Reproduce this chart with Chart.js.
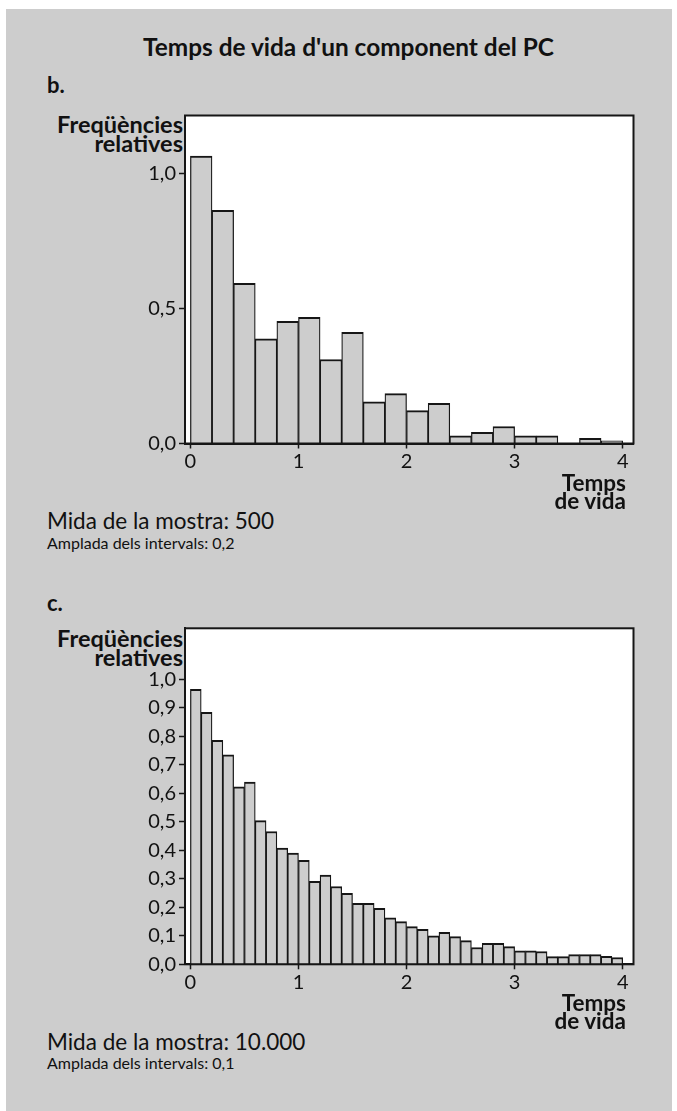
<!DOCTYPE html>
<html>
<head>
<meta charset="utf-8">
<script src="https://cdn.jsdelivr.net/npm/chart.js@4.4.1/dist/chart.umd.min.js"></script>
<style>
  html, body { margin: 0; padding: 0; background: #ffffff; }
  body { width: 677px; height: 1111px; position: relative; overflow: hidden; font-family: Lato, "Open Sans", sans-serif; color: #111; }
  #panel { position: absolute; left: 6px; top: 9px; width: 666px; height: 1102px; background: #cdcdcd; }
  .txt { position: absolute; white-space: nowrap; }
  .bold { font-weight: 700; font-size: 22px; }
  .title { left: 48px; width: 601px; text-align: center; top: 34px; line-height: 26px; font-size: 24.4px; }
  .ylab { right: 494px; text-align: right; line-height: 19px; font-size: 23.5px; }
  .xlab { right: 51px; text-align: right; line-height: 18px; font-size: 22.5px; }
  .mida { left: 47px; font-size: 22.5px; line-height: 26px; }
  .ampl { left: 47px; font-size: 16px; line-height: 18px; }
  canvas { position: absolute; left: 0; }
</style>
</head>
<body>
<div id="panel"></div>

<div class="txt bold title">Temps de vida d'un component del PC</div>

<div class="txt bold" style="left:47px; top:73px; line-height:24px;">b.</div>
<div class="txt bold ylab" style="top:114.5px;">Freqüències<br>relatives</div>
<canvas id="chartB" width="677" height="375" style="top:100px; width:677px; height:375px;"></canvas>
<div class="txt bold xlab" style="top:473.5px;">Temps<br>de vida</div>
<div class="txt mida" style="top:508px;">Mida de la mostra: 500</div>
<div class="txt ampl" style="top:533.5px;">Amplada dels intervals: 0,2</div>

<div class="txt bold" style="left:47px; top:591px; line-height:24px;">c.</div>
<div class="txt bold ylab" style="top:628.5px;">Freqüències<br>relatives</div>
<canvas id="chartC" width="677" height="385" style="top:610px; width:677px; height:385px;"></canvas>
<div class="txt bold xlab" style="top:993.5px;">Temps<br>de vida</div>
<div class="txt mida" style="top:1029px;">Mida de la mostra: 10.000</div>
<div class="txt ampl" style="top:1053.5px;">Amplada dels intervals: 0,1</div>

<script>
// b. sample of 500, intervals of 0,2
const binsB = [0, 0.2, 0.4, 0.6, 0.8, 1.0, 1.2, 1.4, 1.6, 1.8,
               2.0, 2.2, 2.4, 2.6, 2.8, 3.0, 3.2, 3.4, 3.6, 3.8];
const freqB = [1.065, 0.864, 0.593, 0.388, 0.453, 0.467, 0.311, 0.412, 0.154, 0.185,
               0.122, 0.149, 0.028, 0.041, 0.063, 0.028, 0.028, 0, 0.019, 0.01];
const yTicksB = [0, 0.5, 1.0];

// c. sample of 10.000, intervals of 0,1
const binsC = [0, 0.1, 0.2, 0.3, 0.4, 0.5, 0.6, 0.7, 0.8, 0.9,
               1.0, 1.1, 1.2, 1.3, 1.4, 1.5, 1.6, 1.7, 1.8, 1.9,
               2.0, 2.1, 2.2, 2.3, 2.4, 2.5, 2.6, 2.7, 2.8, 2.9,
               3.0, 3.1, 3.2, 3.3, 3.4, 3.5, 3.6, 3.7, 3.8, 3.9];
const freqC = [0.965, 0.884, 0.786, 0.735, 0.623, 0.639, 0.504, 0.466, 0.408, 0.39,
               0.365, 0.291, 0.313, 0.273, 0.249, 0.214, 0.214, 0.196, 0.163, 0.15,
               0.132, 0.123, 0.1, 0.112, 0.097, 0.083, 0.059, 0.074, 0.074, 0.062,
               0.047, 0.047, 0.045, 0.027, 0.027, 0.034, 0.034, 0.034, 0.028, 0.024];
const yTicksC = [0, 0.1, 0.2, 0.3, 0.4, 0.5, 0.6, 0.7, 0.8, 0.9, 1.0];

const xTicks = [0, 1, 2, 3, 4];

const ink = "#161616";
const tickFont = { family: "Lato", size: 20 };

// white plot area + closed frame around it
const framePlugin = {
  id: "frame",
  beforeDraw(chart) {
    const a = chart.chartArea, c = chart.ctx;
    c.save();
    c.fillStyle = "#ffffff";
    c.fillRect(a.left, a.top, a.right - a.left, a.bottom - a.top);
    c.restore();
  },
  afterDraw(chart) {
    const a = chart.chartArea, c = chart.ctx;
    c.save();
    c.strokeStyle = ink;
    c.lineWidth = 2;
    c.strokeRect(a.left, a.top, a.right - a.left, a.bottom - a.top);
    c.restore();
  },
};

function comma(v) {
  return v.toFixed(1).replace(".", ",");
}

function histogram(id, bins, freqs, binWidth, yTicks, yMax, padTop, xHeight) {
  const points = bins.map((b, i) => ({ x: b + binWidth / 2, y: freqs[i] }));
  return new Chart(document.getElementById(id), {
    type: "bar",
    data: {
      datasets: [{
        data: points,
        backgroundColor: "#cdcdcd",
        borderColor: ink,
        borderWidth: { top: 2, left: 1.25, right: 1.25, bottom: 0 },
        borderSkipped: false,
        barPercentage: 1,
        categoryPercentage: 1,
      }],
    },
    options: {
      responsive: false,
      animation: false,
      devicePixelRatio: 1,
      layout: { padding: { top: padTop, right: 43.5, left: 0, bottom: 0 } },
      plugins: { legend: { display: false }, tooltip: { enabled: false } },
      scales: {
        x: {
          type: "linear",
          offset: false,
          min: -0.05,
          max: 4.1,
          afterBuildTicks: (s) => { s.ticks = xTicks.map((v) => ({ value: v })); },
          afterFit: (s) => { s.height = xHeight; },
          grid: { offset: false, drawOnChartArea: false, tickLength: 5, tickColor: ink, tickWidth: 1.5 },
          border: { display: true, color: ink, width: 2 },
          ticks: { font: tickFont, color: "#111", padding: 1, maxRotation: 0, callback: (v) => String(v) },
        },
        y: {
          min: 0,
          max: yMax,
          afterBuildTicks: (s) => { s.ticks = yTicks.map((v) => ({ value: v })); },
          afterFit: (s) => { s.width = 185; },
          grid: { drawOnChartArea: false, tickLength: 6, tickColor: ink, tickWidth: 1.5 },
          border: { display: true, color: ink, width: 2 },
          ticks: { font: tickFont, color: "#111", padding: 3, callback: (v) => comma(v) },
        },
      },
    },
    plugins: [framePlugin],
  });
}

histogram("chartB", binsB, freqB, 0.2, yTicksB, 1.215, 15.5, 31.5);
histogram("chartC", binsC, freqC, 0.1, yTicksC, 1.179, 18.3, 30.7);
</script>
</body>
</html>
